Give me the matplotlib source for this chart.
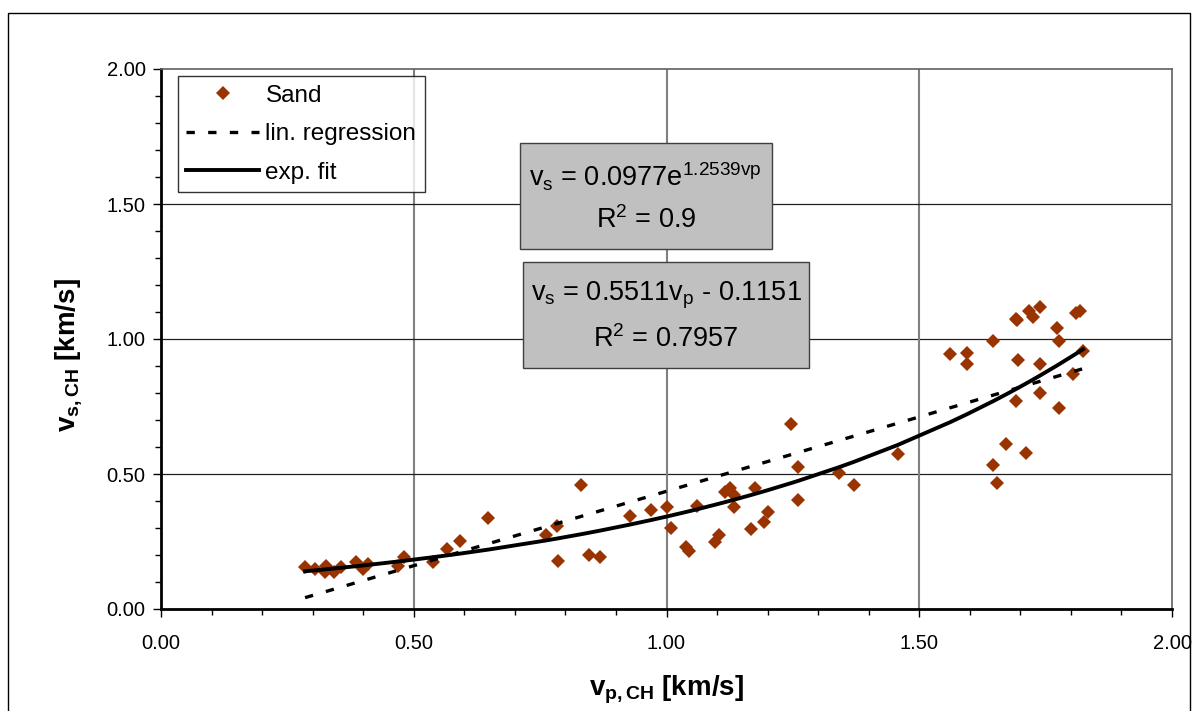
import matplotlib
matplotlib.use("Agg")
import matplotlib.pyplot as plt
import numpy as np
from matplotlib.patches import Rectangle
from matplotlib.ticker import MultipleLocator, FormatStrFormatter

plt.rcParams['font.family'] = ['Liberation Sans', 'DejaVu Sans']
plt.rcParams['mathtext.fontset'] = 'custom'
plt.rcParams['mathtext.rm'] = 'Liberation Sans'
plt.rcParams['mathtext.it'] = 'Liberation Sans:italic'
plt.rcParams['mathtext.bf'] = 'Liberation Sans:bold'

# Data: Sand (vp, vs) in km/s
vp = [0.285, 0.304, 0.326, 0.324, 0.342, 0.356, 0.385, 0.399, 0.409, 0.468,
      0.480, 0.538, 0.565, 0.591, 0.646,
      0.761, 0.783, 0.785, 0.830, 0.846, 0.868, 0.927, 0.970, 1.000, 1.008,
      1.038, 1.045, 1.061, 1.095, 1.103, 1.115, 1.126, 1.134, 1.134, 1.168,
      1.176, 1.192, 1.200, 1.247, 1.261, 1.261, 1.342, 1.370, 1.457,
      1.561, 1.595, 1.595, 1.646, 1.646, 1.654, 1.672, 1.692, 1.694, 1.696,
      1.692, 1.711, 1.717, 1.725, 1.739, 1.739, 1.739, 1.773, 1.777, 1.777,
      1.804, 1.810, 1.818, 1.824]
vs = [0.156, 0.148, 0.159, 0.138, 0.138, 0.156, 0.174, 0.148, 0.167, 0.159,
      0.193, 0.174, 0.222, 0.252, 0.337,
      0.274, 0.307, 0.178, 0.459, 0.200, 0.193, 0.344, 0.367, 0.378, 0.300,
      0.230, 0.215, 0.381, 0.248, 0.274, 0.433, 0.448, 0.422, 0.378, 0.296,
      0.448, 0.322, 0.359, 0.685, 0.526, 0.404, 0.504, 0.459, 0.574,
      0.944, 0.948, 0.907, 0.993, 0.533, 0.467, 0.611, 1.074, 1.070, 0.922,
      0.770, 0.578, 1.104, 1.081, 1.119, 0.907, 0.800, 1.041, 0.993, 0.744,
      0.870, 1.096, 1.104, 0.956]

# Fit coefficients shown on the chart
lin_slope, lin_icpt = 0.5511, -0.1151
exp_a, exp_b = 0.0977, 1.2539

xs = np.sort(np.array(vp))
lin_y = lin_slope * xs + lin_icpt
exp_y = exp_a * np.exp(exp_b * xs)

fig = plt.figure(figsize=(11.98, 7.11), dpi=100)
ax = fig.add_axes([161/1198, 1-609/711, 1011/1198, 540/711])

# outer chart frame
fig.patches.append(Rectangle((8/1198, -0.02), (1190-8)/1198, (711-13)/711 + 0.02,
                             transform=fig.transFigure, fill=False,
                             edgecolor='black', lw=1.0))

ax.set_xlim(0, 2)
ax.set_ylim(0, 2)

for v in [0.5, 1.0, 1.5]:
    ax.axvline(v, color='#808080', lw=1.5, zorder=0)
    ax.axhline(v, color='#202020', lw=0.9, zorder=0)

ax.plot(vp, vs, linestyle='none', marker='D', ms=7, color='#993300',
        markeredgewidth=0, label='Sand', zorder=3)
ax.plot(xs, lin_y, color='black', lw=2.4, dashes=(2.5, 4.0), label='lin. regression', zorder=4)
ax.plot(xs, exp_y, color='black', lw=2.8, label='exp. fit', zorder=4)

ax.xaxis.set_major_locator(MultipleLocator(0.5))
ax.xaxis.set_minor_locator(MultipleLocator(0.1))
ax.yaxis.set_major_locator(MultipleLocator(0.5))
ax.yaxis.set_minor_locator(MultipleLocator(0.1))
ax.xaxis.set_major_formatter(FormatStrFormatter('%.2f'))
ax.yaxis.set_major_formatter(FormatStrFormatter('%.2f'))
ax.tick_params(which='major', direction='out', length=6, width=1, labelsize=14.5, color='black')
ax.tick_params(which='minor', direction='out', length=4, width=1, color='black')
ax.tick_params(axis='x', pad=12)
ax.tick_params(axis='y', pad=5)

for s in ['left', 'bottom']:
    ax.spines[s].set_linewidth(2)
    ax.spines[s].set_color('black')
for s in ['top', 'right']:
    ax.spines[s].set_linewidth(1.2)
    ax.spines[s].set_color('#606060')

ax.set_xlabel(r'$\mathbf{v_{p,CH}}$ [km/s]', fontsize=20, fontweight='bold', va='center')
ax.set_ylabel(r'$\mathbf{v_{s,CH}}$ [km/s]', fontsize=20, fontweight='bold', va='center')
ax.xaxis.set_label_coords(0.5, -0.15)
ax.yaxis.set_label_coords(-0.091, 0.47)

leg = ax.legend(loc='upper left', bbox_to_anchor=(0.0168, 0.987), borderaxespad=0,
                fontsize=17.5, frameon=True, fancybox=False, edgecolor='black',
                handlelength=3.0, handletextpad=0.25, labelspacing=0.68,
                borderpad=0.35, numpoints=1)
leg.get_frame().set_linewidth(1.0)

# equation boxes
boxes = [
    ((0.355, 0.667), 0.604-0.355, 0.863-0.667,
     [r'$\mathregular{v_s}$ = 0.0977e$^{\mathregular{1.2539vp}}$', r'R$^{\mathregular{2}}$ = 0.9']),
    ((0.358, 0.446), 0.641-0.358, 0.643-0.446,
     [r'$\mathregular{v_s}$ = 0.5511$\mathregular{v_p}$ - 0.1151', r'R$^{\mathregular{2}}$ = 0.7957']),
]
for (x0, y0), w, h, lines in boxes:
    ax.add_patch(Rectangle((x0, y0), w, h, transform=ax.transAxes,
                           facecolor='#c0c0c0', edgecolor='#404040', lw=1.0, zorder=5))
    ax.text(x0 + w/2, y0 + h*0.68, lines[0], transform=ax.transAxes, ha='center',
            va='center', fontsize=19.5, zorder=6)
    ax.text(x0 + w/2, y0 + h*0.27, lines[1], transform=ax.transAxes, ha='center',
            va='center', fontsize=19.5, zorder=6)

fig.savefig('out.png', dpi=100)
